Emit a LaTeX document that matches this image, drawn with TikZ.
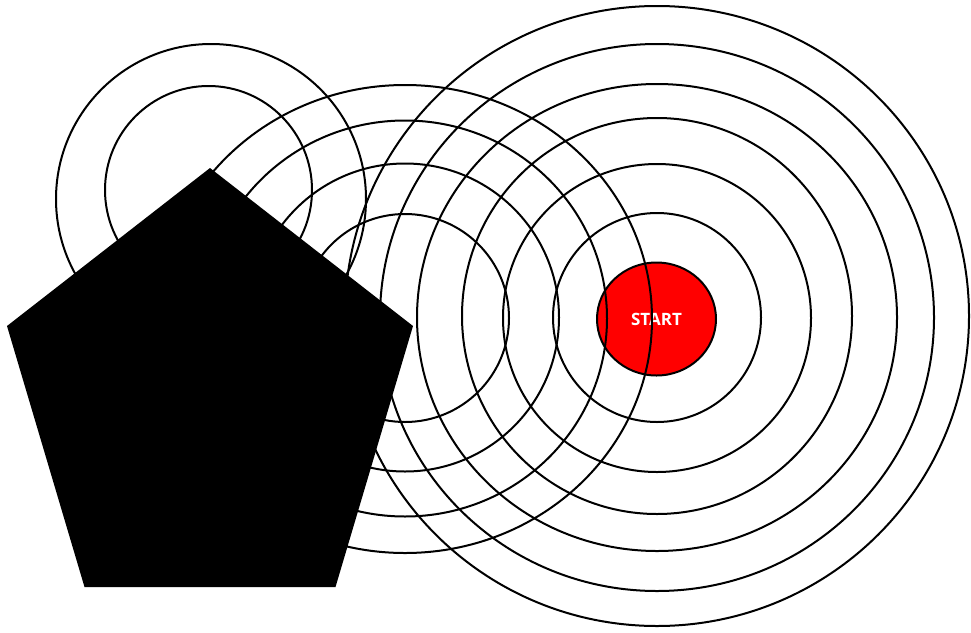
\documentclass[tikz,border=0pt]{standalone}
\usepackage{fontspec}
\usetikzlibrary{shapes.geometric}
\newfontfamily\startfont{Open Sans}
\begin{document}
\begin{tikzpicture}[x=1pt,y=-1pt,
  ring/.style={draw=black, line width=2pt},
  startnode/.style={ellipse, draw=black, line width=2pt, fill=red, text=white,
    minimum width=119pt, minimum height=113pt, inner sep=0pt,
    font=\startfont\bfseries\fontsize{17}{20}\selectfont}]
\useasboundingbox (0,0) rectangle (971,632);
% start node
\node[startnode] (start) at (656.5,319) {START};
% left set
\draw[ring] (211,199) ellipse [x radius=155pt, y radius=155pt];
\draw[ring] (208.5,190) ellipse [x radius=103.5pt, y radius=104pt];
% middle set
\draw[ring] (405,318) ellipse [x radius=104pt, y radius=104pt];
\draw[ring] (405,317.5) ellipse [x radius=154pt, y radius=154pt];
\draw[ring] (405,318.5) ellipse [x radius=202pt, y radius=198pt];
\draw[ring] (405,319) ellipse [x radius=247pt, y radius=234pt];
% right set
\draw[ring] (657,317.5) ellipse [x radius=104pt, y radius=104.5pt];
\draw[ring] (657,318) ellipse [x radius=154pt, y radius=154pt];
\draw[ring] (657,316) ellipse [x radius=195pt, y radius=198pt];
\draw[ring] (657,317.5) ellipse [x radius=240pt, y radius=233.5pt];
\draw[ring] (657,317.5) ellipse [x radius=277pt, y radius=273.5pt];
\draw[ring] (657,316) ellipse [x radius=312pt, y radius=310pt];
% pentagon
\fill[black] (210,168) -- (413,326) -- (335.5,587) -- (84.5,587) -- (7,326) -- cycle;
\end{tikzpicture}
\end{document}
